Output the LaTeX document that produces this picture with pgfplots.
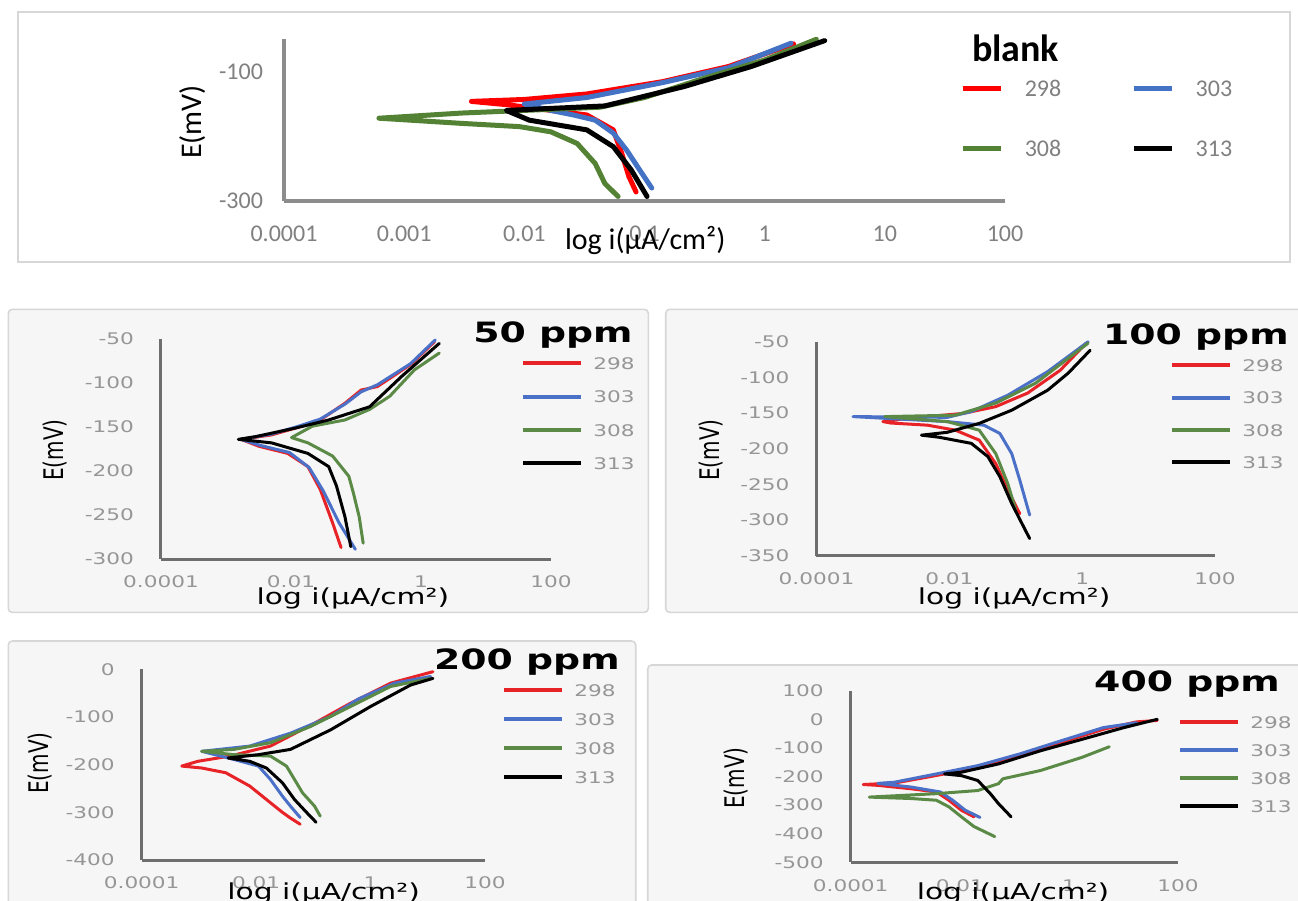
\documentclass[border=0pt]{standalone}
\usepackage{fontspec}
\setmainfont{Carlito}
\newfontfamily\dv[FakeStretch=1.35]{DejaVu Sans}
\newfontfamily\dvplain{DejaVu Sans}
\usepackage{graphicx}
\usepackage{pgfplots}
\pgfplotsset{compat=1.18}

\definecolor{xred}{RGB}{255,0,0}
\definecolor{xblue}{RGB}{68,114,196}
\definecolor{xgreen}{RGB}{84,130,53}
\definecolor{lred}{RGB}{232,35,40}
\definecolor{lblue}{RGB}{75,112,200}
\definecolor{lgreen}{RGB}{90,138,70}
\definecolor{tickA}{RGB}{128,128,128}
\definecolor{tickB}{RGB}{150,150,150}
\definecolor{axisA}{RGB}{140,140,140}
\definecolor{axisB}{RGB}{110,110,110}
\definecolor{panelfill}{RGB}{246,246,246}
\definecolor{panelline}{RGB}{215,215,215}

\newcommand{\ttl}[1]{{\dv\bfseries\fontsize{14}{16}\selectfont #1}}

\begin{document}
\begin{tikzpicture}
\useasboundingbox (0,0) rectangle (649pt,-450.5pt);
\fill[white] (0,0) rectangle (649pt,-450.5pt);
% panel frames
\draw[panelline, line width=0.7pt, fill=white] (9pt,-6pt) rectangle (645pt,-131pt);
\draw[panelline, line width=0.8pt, fill=panelfill, rounded corners=2pt] (4.15pt,-154.65pt) rectangle (324.15pt,-306.2pt);
\draw[panelline, line width=0.8pt, fill=panelfill, rounded corners=2pt] (332.85pt,-154.65pt) rectangle (652pt,-306.2pt);
\draw[panelline, line width=0.8pt, fill=panelfill, rounded corners=2pt] (4.15pt,-320.5pt) rectangle (317.85pt,-455pt);
\draw[panelline, line width=0.8pt, fill=panelfill, rounded corners=2pt] (323.85pt,-332.5pt) rectangle (652pt,-455pt);

% ---------------- blank ----------------
\begin{axis}[scale only axis, at={(142pt,-100.5pt)}, anchor=south west,
  width=360.5pt, height=80.85pt,
  xmode=log, xmin=1e-4, xmax=1e2, ymin=-300, ymax=-50,
  xtick={1e-4,1e-3,1e-2,1e-1,1,1e1,1e2},
  xticklabels={0.0001,0.001,0.01,0.1,1,10,100},
  ytick={-300,-100}, yticklabels={-300,-100},
  xminorticks=false, yminorticks=false,
  axis x line*=bottom, axis y line*=left,
  axis line style={draw=axisA, line width=1.6pt},
  major tick length=0pt,
  tick label style={font=\fontsize{12}{14}\selectfont, text=tickA},
  xticklabel style={yshift=-9pt}, yticklabel style={xshift=-7pt},
  xlabel={log i(µA/cm²)}, ylabel={E(mV)},
  xlabel style={font=\fontsize{15}{18}\selectfont, anchor=center, at={(axis description cs:0.501,-0.245)}},
  ylabel style={font=\fontsize{15}{18}\selectfont, anchor=center, at={(axis description cs:-0.127,0.489)}},
  clip=false,
  every axis plot/.append style={line width=2.5pt, line join=round, line cap=round},
  legend columns=2,
  legend style={draw=none, fill=none, anchor=north west, inner sep=0pt,
    at={(axis description cs:0.9376,0.748)},
    font=\fontsize{12}{14}\selectfont,
    nodes={inner sep=0pt, text height=8pt, text depth=0pt, text=tickA},
    row sep=22pt,
    /tikz/every odd column/.append style={column sep=11pt},
    /tikz/every even column/.append style={column sep=35pt}},
  legend image code/.code={\draw[#1, line width=2.2pt, line cap=butt] (0pt,0pt) -- (19pt,0pt);},
]
\addplot[xred] coordinates {(8.51e-2,-286) (7.41e-2,-262) (6.46e-2,-226) (5.50e-2,-190) (3.31e-2,-167) (7.08e-3,-151) (3.63e-3,-146) (1.0e-2,-143) (3.31e-2,-134.5) (0.141,-115.5) (0.501,-92) (1.74,-57)};
\addlegendentry{298}
\addplot[xblue] coordinates {(0.115,-280) (9.12e-2,-252) (7.08e-2,-221) (5.50e-2,-195) (3.89e-2,-175) (2.57e-2,-167) (1.66e-2,-160) (1.0e-2,-150) (3.31e-2,-140) (0.141,-117) (0.501,-94) (1.66,-56)};
\addlegendentry{303}
\addplot[xgreen] coordinates {(6.03e-2,-293) (4.68e-2,-273) (3.89e-2,-242) (2.75e-2,-211) (1.66e-2,-193) (9.12e-3,-185) (3.02e-3,-180) (6.17e-4,-172) (3.02e-3,-164) (4.27e-2,-155) (0.1,-140) (0.316,-110) (1,-82) (2.69,-50)};
\addlegendentry{308}
\addplot[black] coordinates {(0.105,-293) (7.76e-2,-252) (5.50e-2,-216) (3.31e-2,-190) (1.10e-2,-175) (7.08e-3,-160) (4.68e-2,-153) (0.214,-123) (0.776,-92) (3.16,-52)};
\addlegendentry{313}
\node[anchor=west, font=\bfseries\fontsize{19}{22}\selectfont] at (axis description cs:0.9445,0.946) {blank};
\end{axis}

% ---------------- 50 ppm ----------------
\begin{axis}[scale only axis, at={(80.5pt,-279.5pt)}, anchor=south west,
  width=195pt, height=110pt,
  xmode=log, xmin=1e-4, xmax=1e2, ymin=-300, ymax=-50,
  xtick={1e-4,1e-2,1,1e2}, xticklabels={0.0001,0.01,1,100},
  ytick={-300,-250,-200,-150,-100,-50}, yticklabels={-300,-250,-200,-150,-100,-50},
  xminorticks=false, yminorticks=false,
  axis x line*=bottom, axis y line*=left,
  axis line style={draw=axisB, line width=1.5pt},
  major tick length=0pt,
  tick label style={font=\dv\fontsize{8}{9}\selectfont, text=tickB},
  xticklabel style={yshift=-5pt}, yticklabel style={xshift=-10pt},
  xlabel={log i(µA/cm²)}, ylabel={\scalebox{1}[1.35]{E(mV)}},
  xlabel style={font=\dv\fontsize{11}{13}\selectfont, anchor=center, at={(axis description cs:0.492,-0.177)}},
  ylabel style={font=\dvplain\fontsize{10}{12}\selectfont, anchor=center, at={(axis description cs:-0.272,0.495)}},
  clip=false,
  every axis plot/.append style={line width=1.5pt, line join=round, line cap=round},
  legend style={draw=none, fill=none, anchor=north west, inner sep=0pt,
    at={(axis description cs:0.923,0.918)}, row sep=10.67pt,
    font=\dv\fontsize{8}{9}\selectfont,
    nodes={inner sep=0pt, text height=6pt, text depth=0pt, text=tickB},
    /tikz/every odd column/.append style={column sep=5pt}},
  legend image code/.code={\draw[#1, line width=2pt, line cap=butt] (0pt,0pt) -- (29pt,0pt);},
]
\addplot[lred] coordinates {(5.89e-2,-287) (4.37e-2,-259) (2.82e-2,-221) (1.82e-2,-195) (8.91e-3,-180) (3.24e-3,-172) (1.70e-3,-164) (5.01e-3,-159) (1.20e-2,-151) (2.82e-2,-142) (6.76e-2,-123) (0.120,-108) (0.214,-104) (0.692,-79) (1.62,-53)};
\addlegendentry{298}
\addplot[lblue] coordinates {(9.77e-2,-289) (5.5e-2,-259) (3.1e-2,-222) (1.9e-2,-196) (9.5e-3,-179) (3.4e-3,-171) (1.70e-3,-164) (5.01e-3,-158) (1.20e-2,-150) (2.82e-2,-141) (6.76e-2,-124) (0.12,-110) (0.214,-102) (0.692,-78) (1.66,-51)};
\addlegendentry{303}
\addplot[lgreen] coordinates {(0.129,-282) (0.112,-252) (9.12e-2,-225) (7.76e-2,-206) (4.37e-2,-183) (1.82e-2,-168) (1.02e-2,-162) (2.14e-2,-149) (6.76e-2,-142) (0.162,-130) (0.331,-115) (0.794,-85) (1.91,-66)};
\addlegendentry{308}
\addplot[black] coordinates {(8.32e-2,-286) (6.76e-2,-252) (5.01e-2,-217) (3.80e-2,-195) (1.82e-2,-180) (5.01e-3,-168) (1.55e-3,-164) (2.82e-3,-161) (1.20e-2,-151) (3.80e-2,-142) (0.162,-127) (0.513,-92) (1.91,-55)};
\addlegendentry{313}
\node at (axis description cs:1.005,1.018) {\ttl{50 ppm}};
\end{axis}

% ---------------- 100 ppm ----------------
\begin{axis}[scale only axis, at={(408.25pt,-277.85pt)}, anchor=south west,
  width=199.25pt, height=107pt,
  xmode=log, xmin=1e-4, xmax=1e2, ymin=-350, ymax=-50,
  xtick={1e-4,1e-2,1,1e2}, xticklabels={0.0001,0.01,1,100},
  ytick={-350,-300,-250,-200,-150,-100,-50}, yticklabels={-350,-300,-250,-200,-150,-100,-50},
  xminorticks=false, yminorticks=false,
  axis x line*=bottom, axis y line*=left,
  axis line style={draw=axisB, line width=1.5pt},
  major tick length=0pt,
  tick label style={font=\dv\fontsize{8}{9}\selectfont, text=tickB},
  xticklabel style={yshift=-5pt}, yticklabel style={xshift=-10pt},
  xlabel={log i(µA/cm²)}, ylabel={\scalebox{1}[1.35]{E(mV)}},
  xlabel style={font=\dv\fontsize{11}{13}\selectfont, anchor=center, at={(axis description cs:0.496,-0.198)}},
  ylabel style={font=\dvplain\fontsize{10}{12}\selectfont, anchor=center, at={(axis description cs:-0.265,0.494)}},
  clip=false,
  every axis plot/.append style={line width=1.5pt, line join=round, line cap=round},
  legend style={draw=none, fill=none, anchor=north west, inner sep=0pt,
    at={(axis description cs:0.887,0.919)}, row sep=10.17pt,
    font=\dv\fontsize{8}{9}\selectfont,
    nodes={inner sep=0pt, text height=6pt, text depth=0pt, text=tickB},
    /tikz/every odd column/.append style={column sep=5pt}},
  legend image code/.code={\draw[#1, line width=2pt, line cap=butt] (0pt,0pt) -- (29pt,0pt);},
]
\addplot[lred] coordinates {(0.115,-291) (7.59e-2,-258) (5.01e-2,-221) (2.82e-2,-188) (1.23e-2,-174) (4.68e-3,-167) (1.32e-3,-164) (1.0e-3,-162) (2.29e-3,-157.5) (1.62e-2,-150.5) (5.01e-2,-141) (0.151,-122) (0.468,-90) (1.15,-52)};
\addlegendentry{298}
\addplot[lblue] coordinates {(0.162,-293) (0.115,-244) (8.71e-2,-207) (5.75e-2,-178.5) (3.31e-2,-167) (9.33e-3,-162) (3.55e-4,-155) (9.33e-3,-156) (2.14e-2,-148) (7.59e-2,-125) (0.302,-92) (1.23,-50)};
\addlegendentry{303}
\addplot[lgreen] coordinates {(0.1,-286) (7.59e-2,-249) (5.01e-2,-207) (2.82e-2,-174) (9.33e-3,-162) (1.07e-3,-155) (1.23e-2,-153) (5.01e-2,-136) (0.2,-108) (1.23,-52)};
\addlegendentry{308}
\addplot[black] coordinates {(0.162,-326) (8.71e-2,-277) (5.75e-2,-239) (3.80e-2,-211) (2.14e-2,-192.5) (7.08e-3,-184) (3.80e-3,-181) (9.33e-3,-177) (2.82e-2,-164.5) (8.71e-2,-146) (0.302,-118) (0.617,-94) (1.32,-62)};
\addlegendentry{313}
\node at (axis description cs:0.952,1.022) {\ttl{100 ppm}};
\end{axis}

% ---------------- 200 ppm ----------------
\begin{axis}[scale only axis, at={(70.85pt,-430pt)}, anchor=south west,
  width=171.65pt, height=95.35pt,
  xmode=log, xmin=1e-4, xmax=1e2, ymin=-400, ymax=0,
  xtick={1e-4,1e-2,1,1e2}, xticklabels={0.0001,0.01,1,100},
  ytick={-400,-300,-200,-100,0}, yticklabels={-400,-300,-200,-100,0},
  xminorticks=false, yminorticks=false,
  axis x line*=bottom, axis y line*=left,
  axis line style={draw=axisB, line width=1.5pt},
  major tick length=0pt,
  tick label style={font=\dv\fontsize{8}{9}\selectfont, text=tickB},
  xticklabel style={yshift=-5pt}, yticklabel style={xshift=-10pt},
  xlabel={log i(µA/cm²)}, ylabel={\scalebox{1}[1.35]{E(mV)}},
  xlabel style={font=\dv\fontsize{11}{13}\selectfont, anchor=center, at={(axis description cs:0.53,-0.173)}},
  ylabel style={font=\dvplain\fontsize{10}{12}\selectfont, anchor=center, at={(axis description cs:-0.297,0.509)}},
  clip=false,
  every axis plot/.append style={line width=1.5pt, line join=round, line cap=round},
  legend style={draw=none, fill=none, anchor=north west, inner sep=0pt,
    at={(axis description cs:1.0495,0.923)}, row sep=8.5pt,
    font=\dv\fontsize{8}{9}\selectfont,
    nodes={inner sep=0pt, text height=6pt, text depth=0pt, text=tickB},
    /tikz/every odd column/.append style={column sep=5pt}},
  legend image code/.code={\draw[#1, line width=2pt, line cap=butt] (0pt,0pt) -- (29pt,0pt);},
]
\addplot[lred] coordinates {(5.89e-2,-325) (3.98e-2,-312) (2.88e-2,-300) (1.51e-2,-273) (7.76e-3,-245) (2.95e-3,-217) (1.12e-3,-207) (5.01e-4,-203) (9.55e-4,-193) (3.47e-3,-182) (1.78e-2,-161) (0.105,-113) (0.447,-71) (2.24,-29) (12.3,-5)};
\addlegendentry{298}
\addplot[lblue] coordinates {(5.89e-2,-311) (3.98e-2,-287) (2.88e-2,-266) (1.78e-2,-231) (1.10e-2,-203) (4.07e-3,-189) (1.12e-3,-172) (7.76e-3,-161) (3.98e-2,-134) (0.2,-99) (0.617,-62) (2.63,-29) (11.2,-15)};
\addlegendentry{303}
\addplot[lgreen] coordinates {(0.132,-308) (0.105,-287) (6.46e-2,-259) (4.68e-2,-231) (3.39e-2,-203) (1.78e-2,-182) (4.07e-3,-179) (1.12e-3,-172) (4.07e-3,-168) (1.78e-2,-154) (8.91e-2,-120) (0.447,-78) (2.24,-36) (11.2,-19)};
\addlegendentry{308}
\addplot[black] coordinates {(0.112,-321) (7.59e-2,-300) (4.68e-2,-273) (2.88e-2,-238) (1.51e-2,-207) (7.76e-3,-193) (3.24e-3,-186) (1.10e-2,-179) (3.98e-2,-168) (0.2,-127) (1,-78) (5.01,-33) (12.3,-19)};
\addlegendentry{313}
\node at (axis description cs:1.122,1.038) {\ttl{200 ppm}};
\end{axis}

% ---------------- 400 ppm ----------------
\begin{axis}[scale only axis, at={(425.35pt,-431.15pt)}, anchor=south west,
  width=163.65pt, height=85.8pt,
  xmode=log, xmin=1e-4, xmax=1e2, ymin=-500, ymax=100,
  xtick={1e-4,1e-2,1,1e2}, xticklabels={0.0001,0.01,1,100},
  ytick={-500,-400,-300,-200,-100,0,100}, yticklabels={-500,-400,-300,-200,-100,0,100},
  xminorticks=false, yminorticks=false,
  axis x line*=bottom, axis y line*=left,
  axis line style={draw=axisB, line width=1.5pt},
  major tick length=0pt,
  tick label style={font=\dv\fontsize{8}{9}\selectfont, text=tickB},
  xticklabel style={yshift=-5pt}, yticklabel style={xshift=-10pt},
  xlabel={log i(µA/cm²)}, ylabel={\scalebox{1}[1.35]{E(mV)}},
  xlabel style={font=\dv\fontsize{11}{13}\selectfont, anchor=center, at={(axis description cs:0.496,-0.179)}},
  ylabel style={font=\dvplain\fontsize{10}{12}\selectfont, anchor=center, at={(axis description cs:-0.35,0.491)}},
  clip=false,
  every axis plot/.append style={line width=1.5pt, line join=round, line cap=round},
  legend style={draw=none, fill=none, anchor=north west, inner sep=0pt,
    at={(axis description cs:1.0,0.853)}, row sep=8pt,
    font=\dv\fontsize{8}{9}\selectfont,
    nodes={inner sep=0pt, text height=6pt, text depth=0pt, text=tickB},
    /tikz/every odd column/.append style={column sep=5pt}},
  legend image code/.code={\draw[#1, line width=2pt, line cap=butt] (0pt,0pt) -- (29pt,0pt);},
]
\addplot[lred] coordinates {(1.82e-2,-341) (1.07e-2,-318) (6.31e-3,-283) (3.72e-3,-254) (1.29e-3,-243) (3.16e-4,-231) (1.70e-4,-228) (6.31e-4,-223) (2.57e-3,-202) (5.25e-3,-191) (2.14e-2,-168) (0.126,-127) (0.724,-81) (4.27,-35) (17.4,-9) (41.7,-4)};
\addlegendentry{298}
\addplot[lblue] coordinates {(2.34e-2,-343) (1.26e-2,-318) (7.41e-3,-283) (4.37e-3,-254) (1.29e-3,-237) (3.16e-4,-224) (6.31e-4,-220) (3.72e-3,-191) (2.14e-2,-162) (0.126,-121) (0.724,-75) (4.27,-29) (17.4,-12)};
\addlegendentry{303}
\addplot[lgreen] coordinates {(4.37e-2,-410) (1.82e-2,-375) (1.07e-2,-341) (6.31e-3,-306) (3.72e-3,-283) (1.29e-3,-277) (2.19e-4,-272) (3.72e-3,-260) (2.14e-2,-249) (5.13e-2,-225) (6.17e-2,-208) (0.302,-179) (1.74,-133) (5.50,-96)};
\addlegendentry{308}
\addplot[black] coordinates {(8.71e-2,-341) (5.13e-2,-295) (3.63e-2,-260) (2.14e-2,-214) (1.07e-2,-197) (5.25e-3,-191) (1.07e-2,-185) (5.13e-2,-156) (0.302,-110) (1.74,-70) (10.2,-29) (41.7,0)};
\addlegendentry{313}
\node at (axis description cs:1.0275,1.039) {\ttl{400 ppm}};
\end{axis}
\end{tikzpicture}
\end{document}
